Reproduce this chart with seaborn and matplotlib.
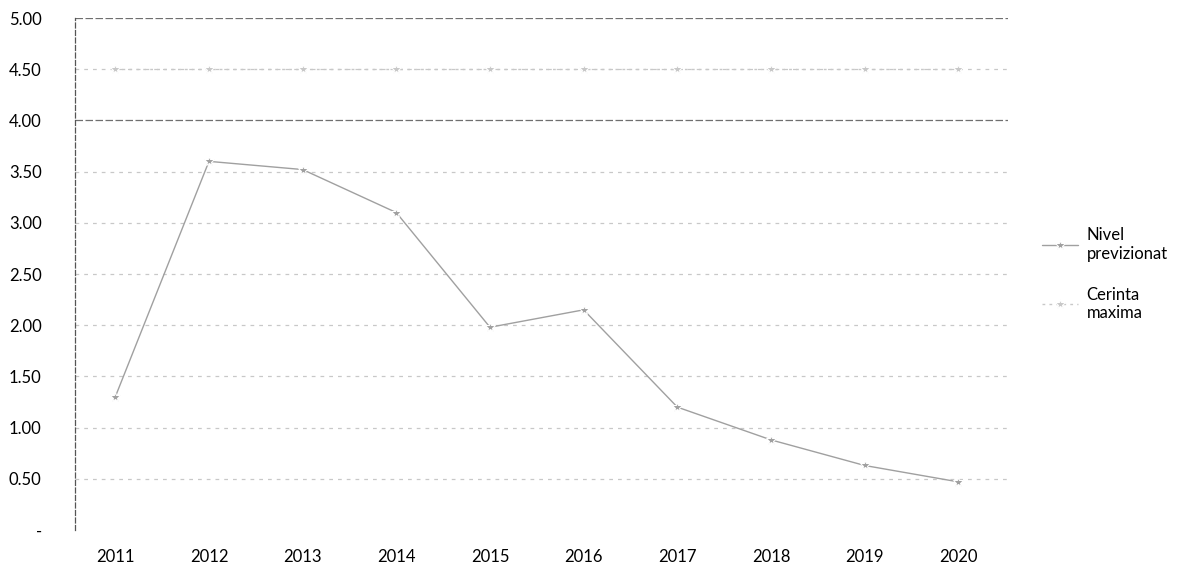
import matplotlib
matplotlib.use("Agg")
import matplotlib.pyplot as plt
import seaborn as sns
import pandas as pd
import numpy as np

years = ["2011", "2012", "2013", "2014", "2015", "2016", "2017", "2018", "2019", "2020"]
nivel_previzionat = [1.30, 3.60, 3.52, 3.10, 1.98, 2.15, 1.20, 0.88, 0.63, 0.47]
cerinta_maxima = [4.50, 4.50, 4.50, 4.50, 4.50, 4.50, 4.50, 4.50, 4.50, 4.50]
series_names = ["Nivel\nprevizionat", "Cerinta\nmaxima"]
y_ticks = [0, 0.5, 1.0, 1.5, 2.0, 2.5, 3.0, 3.5, 4.0, 4.5, 5.0]

sns.set_theme(style="white")
plt.rcParams['font.family'] = ['Lato', 'DejaVu Sans']
plt.rcParams['text.color'] = 'black'
plt.rcParams['xtick.color'] = 'black'
plt.rcParams['ytick.color'] = 'black'

df = pd.DataFrame({
    "An": years * 2,
    "Valoare": nivel_previzionat + cerinta_maxima,
    "Serie": [series_names[0]] * len(years) + [series_names[1]] * len(years),
})

fig = plt.figure(figsize=(11.79, 5.69), dpi=100)
ax = fig.add_axes([75 / 1179, 1 - 530 / 569, (1008 - 75) / 1179, (530 - 18) / 569])

sns.lineplot(data=df, x="An", y="Valoare", hue="Serie", style="Serie",
             palette=["#a0a0a0", "#c8c8c8"], markers=["*", "*"],
             dashes=[(None, None), (2, 3)], markersize=7, linewidth=1.0,
             sort=False, ax=ax)

ax.set_ylim(0, 5.0)
ax.set_xlim(-0.43, 9.53)
ax.set_yticks(y_ticks)
ax.set_yticklabels(["-" if v == 0 else f"{v:.2f}" for v in y_ticks], fontsize=12)
ax.tick_params(axis="x", labelsize=12, pad=14, length=0)
ax.tick_params(axis="y", length=0, pad=24)
ax.set_xlabel("")
ax.set_ylabel("")

ax.yaxis.grid(True, linestyle=(0, (3, 4)), color="#c8c8c8", linewidth=0.9)
for val, gl in zip(y_ticks, ax.get_ygridlines()):
    if val in (4.0, 5.0):
        gl.set_color("#6f6f6f")
        gl.set_linestyle((0, (6, 2)))
    if val == 0:
        gl.set_visible(False)

for s in ["top", "right", "bottom"]:
    ax.spines[s].set_visible(False)
ax.spines["left"].set_color("#555555")
ax.spines["left"].set_linestyle((0, (4, 2)))
ax.spines["left"].set_linewidth(0.9)

leg = ax.legend(loc="center left", bbox_to_anchor=(1.02, 0.5), frameon=False,
                fontsize=12, handlelength=2.2, handletextpad=0.5, labelspacing=1.5)

fig.savefig("out.png", dpi=100)
